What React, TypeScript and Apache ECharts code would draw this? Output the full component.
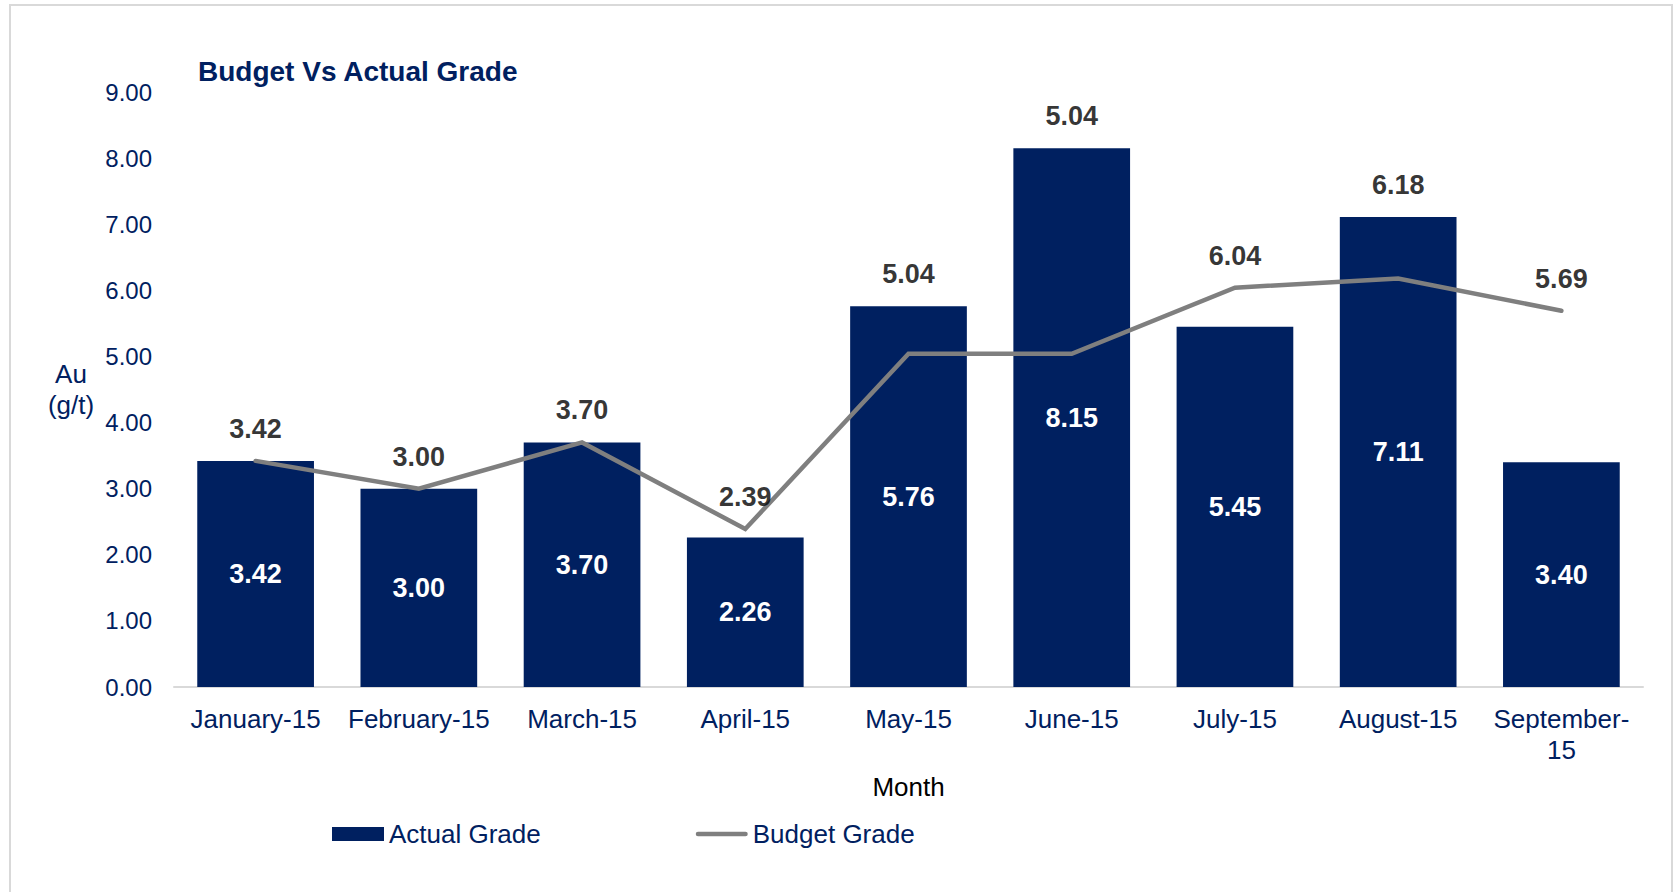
import React, { useEffect, useRef } from "react";
import * as echarts from "echarts";

const months = [
  "January-15",
  "February-15",
  "March-15",
  "April-15",
  "May-15",
  "June-15",
  "July-15",
  "August-15",
  "September-15",
];
const actualGrade = [3.42, 3.0, 3.7, 2.26, 5.76, 8.15, 5.45, 7.11, 3.4];
const budgetGrade = [3.42, 3.0, 3.7, 2.39, 5.04, 5.04, 6.04, 6.18, 5.69];

const NAVY = "#002060";
const GRAY = "#7F7F7F";
const FONT = "'Liberation Sans', Arial, Helvetica, sans-serif";

export default function App() {
  const ref = useRef<HTMLDivElement>(null);
  useEffect(() => {
    if (!ref.current) return;
    const chart = echarts.init(ref.current, null, { renderer: "svg" });
    const labelAnchor = budgetGrade.map((b, i) => [i, Math.max(b, actualGrade[i]), b]);
    chart.setOption({
      animation: false,
      backgroundColor: "#ffffff",
      textStyle: { fontFamily: FONT },
      graphic: [
        {
          type: "rect",
          shape: { x: 10, y: 5, width: 1662, height: 900 },
          style: { fill: "none", stroke: "#D9D9D9", lineWidth: 2 },
          silent: true,
        },
      ],
      title: {
        text: "Budget Vs Actual Grade",
        left: 198,
        top: 57,
        padding: 0,
        textStyle: { color: NAVY, fontSize: 28, fontWeight: "bold", fontFamily: FONT },
      },
      grid: { left: 174, right: 30, top: 92, bottom: 205, containLabel: false },
      legend: {
        data: [
          { name: "Actual Grade", icon: "rect" },
          {
            name: "Budget Grade",
            icon: "path://M2.25,0 H49.75 A2.25,2.25 0 0 1 49.75,4.5 H2.25 A2.25,2.25 0 0 1 2.25,0 Z",
          },
        ],
        left: 332,
        top: 820,
        itemWidth: 52,
        itemHeight: 14,
        itemGap: 155,
        padding: 0,
        textStyle: { color: NAVY, fontSize: 26, fontFamily: FONT, lineHeight: 28 },
      },
      xAxis: {
        type: "category",
        data: months,
        name: "Month",
        nameLocation: "middle",
        nameGap: 87,
        nameTextStyle: { color: "#000000", fontSize: 26, fontFamily: FONT },
        axisLine: { lineStyle: { color: "#D9D9D9", width: 2 } },
        axisTick: { show: false },
        axisLabel: {
          color: NAVY,
          fontSize: 26,
          fontFamily: FONT,
          margin: 16,
          lineHeight: 31,
          interval: 0,
          formatter: (v: string) => (v.length > 11 ? v.replace("-", "-\n") : v),
        },
      },
      yAxis: {
        type: "value",
        min: 0,
        max: 9,
        interval: 1,
        name: "Au\n(g/t)",
        nameLocation: "middle",
        nameRotate: 0,
        nameGap: 103,
        nameTextStyle: {
          color: NAVY,
          fontSize: 26,
          fontFamily: FONT,
          align: "center",
          verticalAlign: "middle",
          lineHeight: 31,
        },
        axisLine: { show: false },
        axisTick: { show: false },
        splitLine: { show: false },
        axisLabel: {
          color: NAVY,
          fontSize: 24,
          fontFamily: FONT,
          margin: 22,
          formatter: (v: number) => v.toFixed(2),
        },
      },
      series: [
        {
          name: "Actual Grade",
          type: "bar",
          data: actualGrade,
          barCategoryGap: "28.5%",
          itemStyle: { color: NAVY },
          label: {
            show: true,
            position: "inside",
            color: "#ffffff",
            fontWeight: "bold",
            fontSize: 27,
            fontFamily: FONT,
            formatter: (p: any) => Number(p.value).toFixed(2),
          },
        },
        {
          name: "Budget Grade",
          type: "line",
          data: budgetGrade,
          symbol: "none",
          lineStyle: { color: GRAY, width: 4.5, cap: "round", join: "miter" },
          itemStyle: { color: GRAY },
          z: 3,
        },
        {
          name: "budgetLabels",
          type: "scatter",
          data: labelAnchor,
          symbolSize: 1,
          itemStyle: { color: "rgba(0,0,0,0)" },
          silent: true,
          z: 4,
          label: {
            show: true,
            position: "top",
            distance: 18,
            color: "#000000",
            fontWeight: "bold",
            fontSize: 27,
            fontFamily: FONT,
            formatter: (p: any) => Number(p.value[2]).toFixed(2),
          },
        },
      ],
    });
    return () => chart.dispose();
  }, []);
  return (
    <div
      ref={ref}
      style={{ position: "absolute", left: 0, top: 0, width: 1673, height: 892 }}
    />
  );
}
